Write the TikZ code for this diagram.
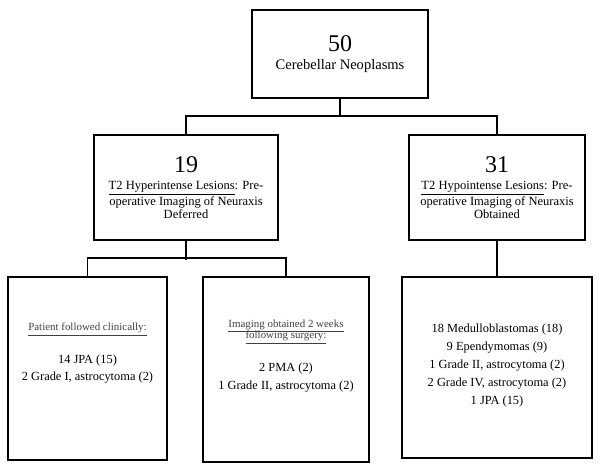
\documentclass[tikz,border=0pt]{standalone}
\usepackage{fontspec}
\setmainfont{Liberation Serif}
\usetikzlibrary{positioning}

\begin{document}
\begin{tikzpicture}[x=0.75pt, y=-0.75pt]

        % Setup the styles for the boxes and the links
        \tikzset{box style/.style={draw,
                                   line width=2pt,
                                   align=center,
                                   inner sep=0pt,
                                   font=\fontsize{9.3}{12.8}\selectfont},
                 link style/.style={line width=1.3pt}}

        \useasboundingbox (0,0) rectangle (602,471);

        % Draw the boxes
        \node[box style, minimum width=132pt, minimum height=66pt,
              font=\fontsize{10.9}{13}\selectfont] at (340, 54) (all)
            {{\fontsize{18}{20}\selectfont 50}\\[0pt]Cerebellar Neoplasms};
        \node[box style, minimum width=138pt, minimum height=78.75pt,
              font=\fontsize{9.4}{10}\selectfont] at (186, 187.5) (hyper)
            {{\fontsize{18}{20}\selectfont 19}\\[3pt]\underline{T2 Hyperintense Lesions}: Pre-\\operative Imaging of Neuraxis\\Deferred};
        \node[box style, minimum width=132pt, minimum height=78.75pt,
              font=\fontsize{9.4}{10}\selectfont] at (497, 187.5) (hypo)
            {{\fontsize{18}{20}\selectfont 31}\\[3pt]\underline{T2 Hypointense Lesions}: Pre-\\operative Imaging of Neuraxis\\Obtained};
        \node[box style, minimum width=119.25pt, minimum height=137.25pt] at (87.5, 368.5) (clinic)
            {{\fontsize{8.2}{9}\selectfont\color{black!75}\underline{Patient followed clinically:}}\\[12pt]
             14 JPA (15)\\2 Grade I, astrocytoma (2)\\[12pt]};
        \node[box style, minimum width=124.5pt, minimum height=138.75pt] at (286, 369.5) (imaging)
            {{\fontsize{8.2}{9}\selectfont\color{black!75}\underline{Imaging obtained 2 weeks}}\\[-4pt]
             {\fontsize{8.2}{9}\selectfont\color{black!75}\underline{following surgery:}}\\[12pt]
             2 PMA (2)\\1 Grade II, astrocytoma (2)\\[10pt]};
        \node[box style, minimum width=142.5pt, minimum height=135.75pt,
              font=\fontsize{9.3}{13.5}\selectfont] at (497, 367.5) (tumours)
            {18 Medulloblastomas (18)\\9 Ependymomas (9)\\1 Grade II, astrocytoma (2)\\
             2 Grade IV, astrocytoma (2)\\1 JPA (15)\\[-8pt]};

        % Connect the boxes
        \draw[link style] (all.south) -- (all.south |- 0, 117);
        \draw[link style] (hyper.north) -- ++(0, -18) -| (hypo.north);
        \draw[link style] (hyper.south) -- ++(0, 19);
        \draw[link style] (clinic.north) -- ++(0, -18) -| (imaging.north);
        \draw[link style] (hypo.south) -- (tumours.north);
\end{tikzpicture}
\end{document}
